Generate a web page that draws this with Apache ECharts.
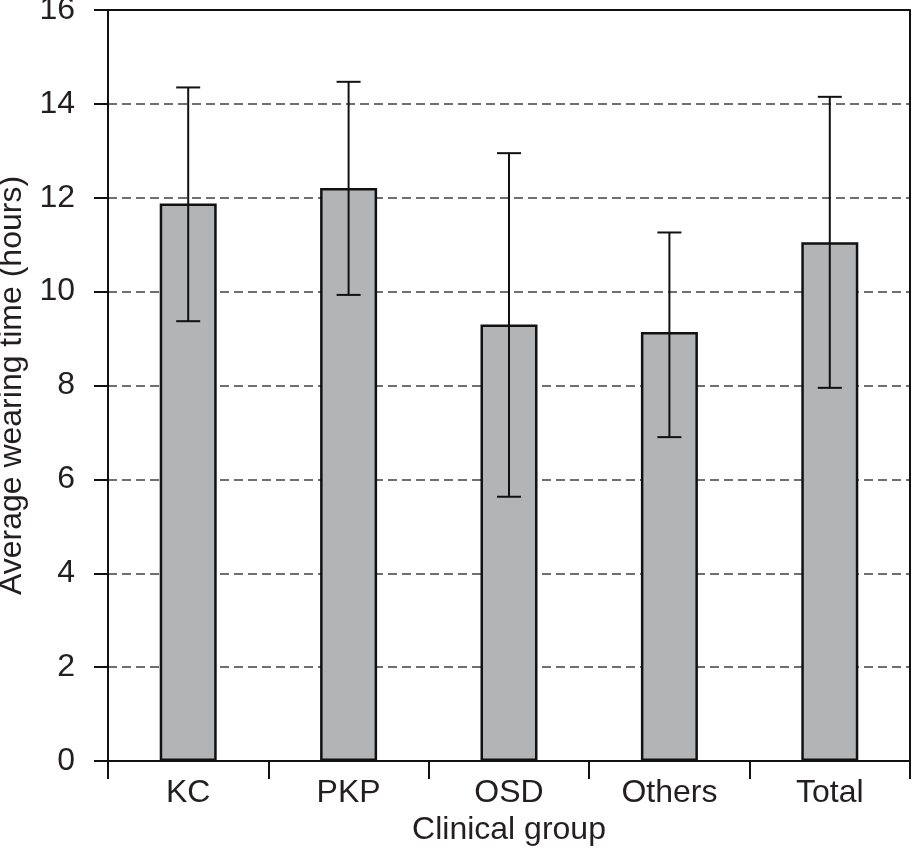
<!DOCTYPE html>
<html>
<head>
<meta charset="utf-8">
<script src="https://cdn.jsdelivr.net/npm/echarts@6/dist/echarts.min.js"></script>
<style>html,body{margin:0;padding:0;background:#fff}#c{width:912px;height:854px}</style>
</head>
<body>
<div id="c"></div>
<script>
var categories = ['KC', 'PKP', 'OSD', 'Others', 'Total'];
var means = [11.88, 12.21, 9.30, 9.14, 11.05];
var upper = [14.35, 14.47, 12.95, 11.26, 14.15];
var lower = [9.37, 9.93, 5.63, 6.90, 7.95];
var yTicks = [0, 2, 4, 6, 8, 10, 12, 14, 16];
var yMax = 16;

var chart = echarts.init(document.getElementById('c'));
var font = 'Liberation Sans, Arial, Helvetica, sans-serif';
var txt = '#231f20';
var errData = categories.map(function (c, i) { return [i, lower[i], upper[i]]; });

chart.setOption({
  animation: false,
  backgroundColor: '#fff',
  grid: { left: 108, right: 2, top: 10, bottom: 93, containLabel: false, outerBoundsMode: 'none' },
  xAxis: [{
    type: 'category',
    data: categories,
    boundaryGap: true,
    z: 6,
    axisLine: { show: true, lineStyle: { color: '#111', width: 2 } },
    axisTick: { show: true, length: 18, inside: false, alignWithLabel: false, lineStyle: { color: '#111', width: 2 } },
    axisLabel: { color: txt, fontFamily: font, fontSize: 32, margin: 16 },
    name: 'Clinical group',
    nameLocation: 'middle',
    nameGap: 47,
    nameTextStyle: { color: txt, fontFamily: font, fontSize: 32 }
  }],
  yAxis: [{
    type: 'value',
    min: 0,
    max: yMax,
    interval: 2,
    z: 1,
    axisLine: { show: true, lineStyle: { color: '#111', width: 2 } },
    axisTick: { show: true, length: 14, lineStyle: { color: '#111', width: 2 } },
    axisLabel: { color: txt, fontFamily: font, fontSize: 32, margin: 33, padding: [6, 0, 0, 0],
      formatter: function (v) { return yTicks.indexOf(v) >= 0 ? String(v) : ''; } },
    splitLine: { show: true, lineStyle: { color: '#6f6f6f', width: 2, type: [9, 5] } },
    name: 'Average wearing time (hours)',
    nameLocation: 'middle',
    nameGap: 71,
    nameTextStyle: { color: txt, fontFamily: font, fontSize: 32 }
  }, {
    type: 'value',
    min: 0,
    max: yMax,
    interval: 2,
    position: 'right',
    z: 6,
    axisLine: { show: true, lineStyle: { color: '#111', width: 2 } },
    axisTick: { show: false },
    axisLabel: { show: false },
    splitLine: { show: false }
  }],
  series: [{
    type: 'bar',
    data: means,
    barWidth: 57,
    itemStyle: { color: '#b3b4b6', borderColor: '#111', borderWidth: 2.5 },
    z: 2,
    markLine: {
      silent: true,
      symbol: 'none',
      label: { show: false },
      lineStyle: { color: '#111', width: 2, type: 'solid' },
      data: [{ yAxis: yMax }],
      z: 10
    }
  }, {
    type: 'custom',
    data: errData,
    z: 5,
    renderItem: function (params, api) {
      var x = api.value(0);
      var lo = api.coord([x, api.value(1)]);
      var hi = api.coord([x, api.value(2)]);
      var hw = 12;
      var st = { stroke: '#111', lineWidth: 2 };
      return {
        type: 'group',
        children: [
          { type: 'line', shape: { x1: hi[0], y1: hi[1], x2: lo[0], y2: lo[1] }, style: st },
          { type: 'line', shape: { x1: hi[0] - hw, y1: hi[1], x2: hi[0] + hw, y2: hi[1] }, style: st },
          { type: 'line', shape: { x1: lo[0] - hw, y1: lo[1], x2: lo[0] + hw, y2: lo[1] }, style: st }
        ]
      };
    }
  }]
});
</script>
</body>
</html>
